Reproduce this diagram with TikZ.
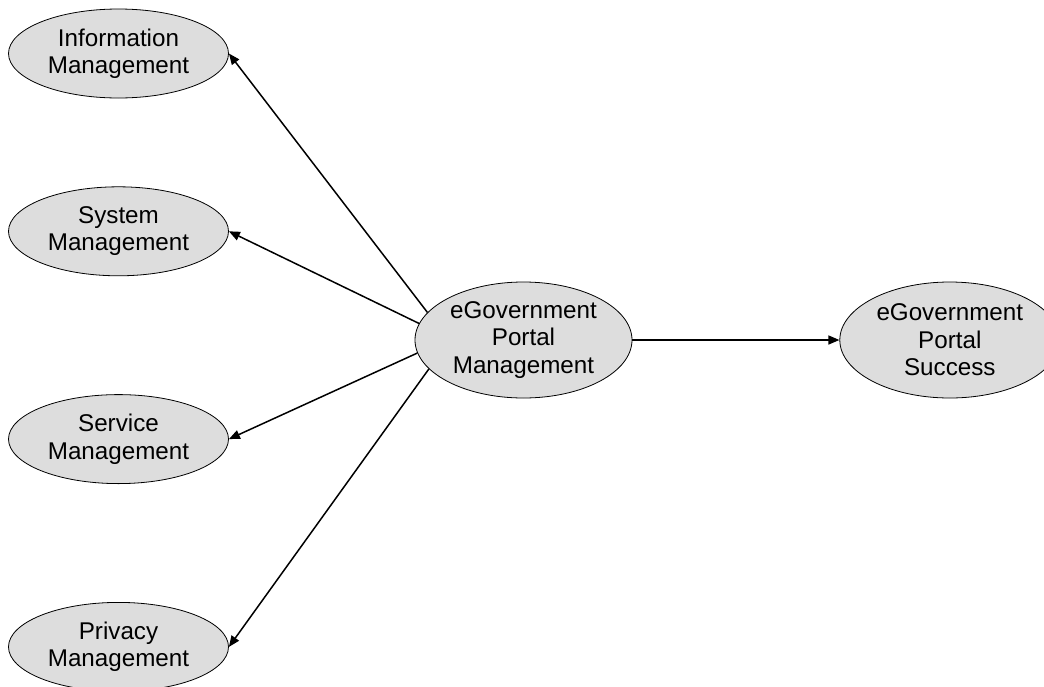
\documentclass[tikz,border=0pt]{standalone}
\usepackage{fontspec}
\setmainfont{Liberation Sans}
\usetikzlibrary{shapes.geometric,arrows.meta,positioning}
\definecolor{bubblegray}{RGB}{221,221,221}

\begin{document}
\begin{tikzpicture}[
    concept/.style={ellipse, draw, fill=bubblegray, line width=0.8pt, inner sep=0pt,
      minimum width=220pt, minimum height=89pt, align=center,
      font=\fontsize{24.2}{27.5}\selectfont},
    link/.style={line width=1.5pt, -{Triangle[length=11pt,width=9pt]}}
  ]
    \useasboundingbox (0,0) rectangle (1044pt,-686pt);
    \node [concept] (info) at (118.5pt,-53.5pt) {Information\\Management};
    \node [concept] [below=88pt of info] (system) {System\\Management};
    \node [concept] [below=118pt of system] (service) {Service\\Management};
    \node [concept] [below=118pt of service] (privacy) {Privacy\\Management};
    \node [concept, minimum width=217pt, minimum height=116pt] (portal) at (523.5pt,-340pt) {eGovernment\\Portal\\Management};
    \node [concept, minimum height=116pt] [right=207pt of portal] (success) {eGovernment\\Portal\\Success};
      \path[link]
      (portal.164) edge (info.east)
      (portal.171) edge (system.east)
      (portal.187) edge (service.east)
      (portal.197) edge (privacy.east)
      (portal.east) edge (success.west)
      ;
  \end{tikzpicture}
\end{document}
